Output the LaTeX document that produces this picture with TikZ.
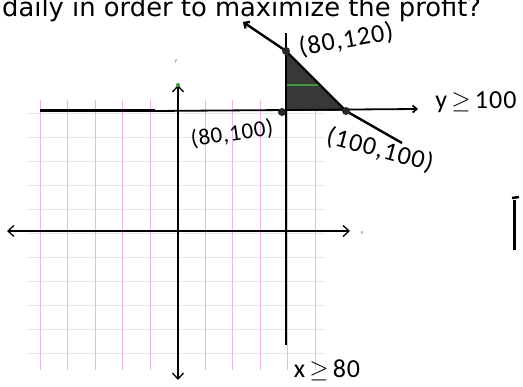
\documentclass[tikz,border=0pt]{standalone}
\usepackage{fontspec}
\setmainfont{Carlito}
\newfontfamily\qfont{DejaVu Sans}
\usetikzlibrary{arrows.meta}
\definecolor{gridpink}{HTML}{EDB2EA}
\definecolor{gridgray}{HTML}{E6E6E6}
\definecolor{regiongray}{HTML}{383838}
\definecolor{streak}{HTML}{3C9A3C}

\begin{document}
\begin{tikzpicture}[x=1pt,y=-1pt,
  axis/.style={line width=1.3pt,{Straight Barb[length=6pt,width=11pt]}-{Straight Barb[length=6pt,width=11pt]}},
  bound/.style={line width=2.4pt},
  corner/.style={circle,fill=black!85,inner sep=0pt,minimum size=8pt},
  hand/.style={font=\fontsize{26}{28}\selectfont\addfontfeature{LetterSpace=4},inner sep=1pt},
  axlbl/.style={font=\fontsize{6}{6}\selectfont,text=black!55,inner sep=0pt}
]
\useasboundingbox (0,0) rectangle (523,387);
% question line, cut at the top
\node[anchor=base west,font=\qfont\fontsize{25.8}{30}\selectfont,inner sep=0pt] (title) at (2,17) {daily in order to maximize the profit?};
% graph paper
\foreach \gy in {113,137,...,353} \draw[gridgray,line width=0.8pt] (27,\gy) -- (325,\gy);
\foreach \gx in {40,67.5,...,316} \draw[gridpink,line width=0.8pt] (\gx,100) -- (\gx,370);
% axes
\coordinate (xl) at (7,231);
\coordinate (xr) at (350,231);
\coordinate (yt) at (178,85);
\coordinate (yb) at (178,380);
\draw[axis] (xl) -- (xr);
\draw[axis] (yt) -- (yb);
\fill[streak] (yt) circle (2pt);
\node[axlbl] (ylab) at (176,62) {y};
\node[axlbl] (xlab) at (362,233) {x};
% feasible region
\coordinate (A) at (286,51);
\coordinate (B) at (286,111);
\coordinate (C) at (346,111);
\fill[regiongray] (A) -- (B) -- (C) -- cycle;
\draw[streak,line width=1.5pt] (287,85) -- (320,85);
% boundary lines
\coordinate (vtop) at (286,33);
\coordinate (vbot) at (286,345);
\draw[bound] (vtop) -- (vbot);
\coordinate (hl) at (40,111);
\coordinate (hm) at (155,111);
\coordinate (hr) at (418,109);
\draw[line width=3pt] (hl) -- (hm);
\draw[line width=1.8pt,-{Straight Barb[length=4pt,width=7pt]}] (hm) -- (hr);
\coordinate (st) at (243,22);
\coordinate (se) at (402,143);
\draw[bound,{Straight Barb[length=4pt,width=8pt]}-] (st) -- (A) -- (C) -- (se);
% corner points
\node[corner] (p1) at (A) {};
\node[corner] (p2) at (282,112) {};
\node[corner] (p3) at (C) {};
\node[hand,rotate=10] (l1) at (346,40) {(80,120)};
\node[hand,rotate=8,font=\fontsize{23}{25}\selectfont\addfontfeature{LetterSpace=3}] (l2) at (232,134) {(80,100)};
\node[hand,rotate=-15] (l3) at (380,150) {(100,100)};
\node[hand] (l4) at (476,102) {y$\,\geq\,$100};
\node[hand] (l5) at (327,370) {x$\,\geq\,$80};
% edge of the next page's text
\draw[line width=3pt] (514,200) -- (514,250);
\draw[line width=2.5pt] (512,198) -- (519,197);
\end{tikzpicture}
\end{document}
